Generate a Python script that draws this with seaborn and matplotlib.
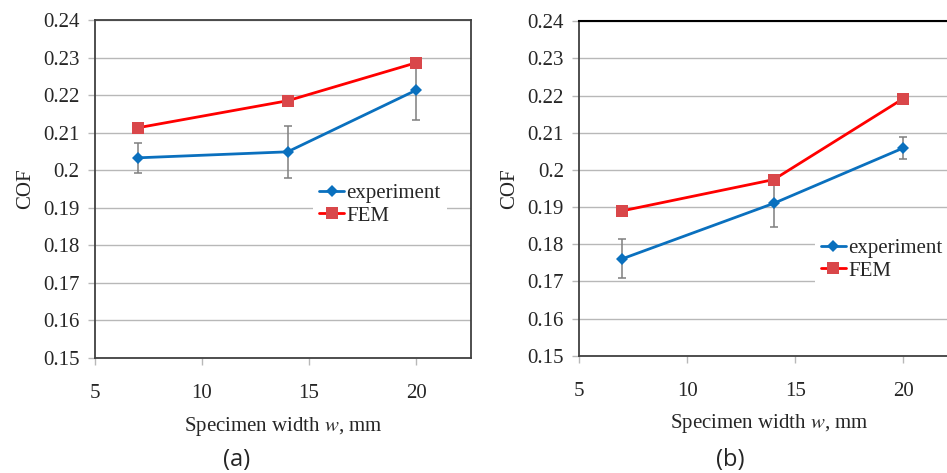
import matplotlib
matplotlib.use("Agg")
import matplotlib.pyplot as plt
import matplotlib.ticker as mticker
import seaborn as sns
import pandas as pd

# Specimen widths (mm)
widths = [7, 14, 20]

# Panel (a)
exp_a = [0.2033, 0.2049, 0.2213]
exp_a_err = [0.0040, 0.0070, 0.0080]
fem_a = [0.2113, 0.2185, 0.2286]

# Panel (b)
exp_b = [0.1761, 0.1910, 0.2059]
exp_b_err = [0.0052, 0.0063, 0.0030]
fem_b = [0.1890, 0.1974, 0.2192]

series_names = ["experiment", "FEM"]
panel_labels = ["(a)", "(b)"]
y_ticks = [0.15, 0.16, 0.17, 0.18, 0.19, 0.20, 0.21, 0.22, 0.23, 0.24]
x_ticks = [5, 10, 15, 20]

sns.set_theme(style="white")
SERIF = ["Liberation Serif", "DejaVu Serif"]
plt.rcParams["font.family"] = SERIF
plt.rcParams["mathtext.fontset"] = "stix"

BLUE = "#0A70BE"
RED_LINE = "#FF0000"
RED_MARK = "#D9474A"
GRID = "#B8B8B8"
SPINE = "#404040"
TEXT = "#262626"
FS = 15

fig = plt.figure(figsize=(9.47, 4.73), dpi=100)
ax_a = fig.add_axes([95 / 947, 1 - 358 / 473, 376 / 947, 338 / 473])
ax_b = fig.add_axes([579.3 / 947, 1 - 355.7 / 473, 379.5 / 947, 334.4 / 473])


def draw_panel(ax, exp, err, fem, legend_anchor, open_right):
    df = pd.DataFrame({
        "w": widths * 2,
        "COF": exp + fem,
        "series": [series_names[0]] * 3 + [series_names[1]] * 3,
    })
    ax.errorbar(widths, exp, yerr=err, fmt="none", ecolor="#7F7F7F",
                elinewidth=1.1, capsize=3, capthick=1.1, zorder=2)
    sns.lineplot(data=df, x="w", y="COF", hue="series", style="series",
                 markers={"experiment": "D", "FEM": "s"}, dashes=False,
                 palette={"experiment": BLUE, "FEM": RED_LINE},
                 linewidth=2.0, markersize=7, markeredgewidth=0,
                 ax=ax, zorder=3)
    for line in ax.get_lines():
        if line.get_marker() == "D":
            line.set_markersize(6)
        elif line.get_marker() == "s":
            line.set_markersize(8)
            line.set_markerfacecolor(RED_MARK)
            line.set_markeredgecolor(RED_MARK)

    ax.set_xlim(5, 22.57)
    ax.set_ylim(0.15, 0.24)
    ax.set_xticks(x_ticks)
    ax.set_yticks(y_ticks)
    ax.set_xticklabels([f"{v:g}" for v in x_ticks], family=SERIF)
    ax.set_yticklabels([f"{v:g}" for v in y_ticks], family=SERIF)
    ax.grid(axis="y", color=GRID, linewidth=1.0)
    ax.set_axisbelow(True)
    ax.tick_params(axis="both", which="major", labelsize=FS, colors=GRID,
                   labelcolor=TEXT, length=5, width=1.0, direction="out",
                   left=True, bottom=True, pad=6)
    ax.tick_params(axis="x", pad=14)
    ax.set_xlabel("Specimen width $w$, mm", fontsize=FS, color=TEXT,
                  labelpad=8, family=SERIF)
    ax.set_ylabel("COF", fontsize=FS, color=TEXT, labelpad=6, family=SERIF)
    for side, sp in ax.spines.items():
        sp.set_visible(True)
        sp.set_color(SPINE)
        sp.set_linewidth(1.3)
    if open_right:
        ax.spines["top"].set_color("black")
        ax.spines["top"].set_linewidth(1.5)
        ax.spines["right"].set_visible(False)

    handles, labels = ax.get_legend_handles_labels()
    leg = ax.legend(handles, labels, loc="upper left",
                    bbox_to_anchor=legend_anchor, frameon=True,
                    prop={"family": SERIF, "size": FS},
                    handlelength=1.2, handletextpad=0.1,
                    labelspacing=0.15, borderpad=0.3, borderaxespad=0)
    leg.get_frame().set_facecolor("white")
    leg.get_frame().set_edgecolor("none")
    leg.get_frame().set_alpha(1.0)
    leg.get_frame().set_boxstyle("square", pad=0)
    for t in leg.get_texts():
        t.set_color(TEXT)


draw_panel(ax_a, exp_a, exp_a_err, fem_a, (0.58, 0.535), False)
draw_panel(ax_b, exp_b, exp_b_err, fem_b, (0.62, 0.37), True)

for lab, xc in zip(panel_labels, [237, 730]):
    fig.text(xc / 947, 1 - 460 / 473, lab, ha="center", va="center",
             fontsize=17, color=TEXT, family=["Open Sans", "DejaVu Sans"])

fig.savefig("out.png", dpi=100)
